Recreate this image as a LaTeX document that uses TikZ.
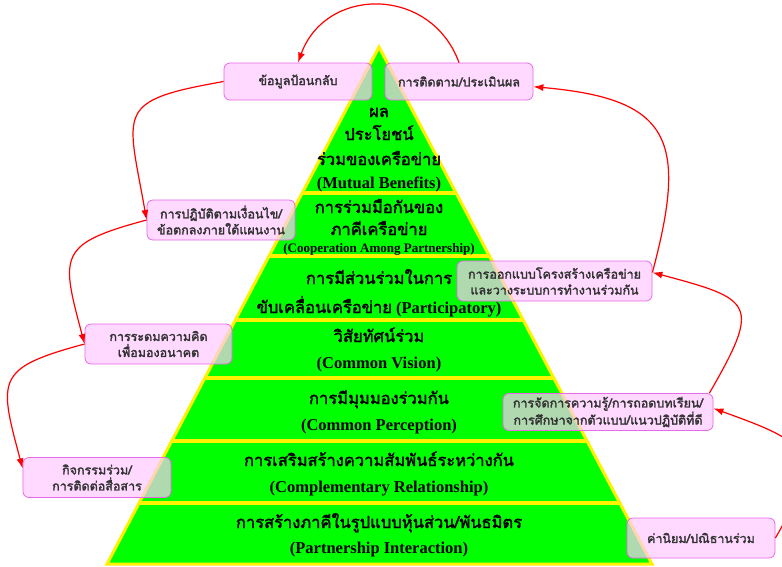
\documentclass[tikz,border=0pt]{standalone}
\usepackage{fontspec}
\setmainfont{Liberation Serif}
\newfontfamily\thaifont[Script=Thai,AutoFakeBold=2.2]{Loma}
\usetikzlibrary{arrows.meta,calc}
\definecolor{boxpink}{RGB}{255,201,255}
\definecolor{boxline}{RGB}{232,104,232}
\begin{document}
\begin{tikzpicture}[x=1pt,y=1pt,
  band/.style={fill=green,draw=yellow,line width=3pt},
  bandline/.style={draw=yellow,line width=3.5pt},
  tl/.style={anchor=base,font={\fontsize{16.5pt}{18pt}\selectfont\thaifont\bfseries}},
  el/.style={anchor=base,font={\fontsize{16.5pt}{18pt}\selectfont\bfseries}},
  es/.style={anchor=base,font={\fontsize{13pt}{15pt}\selectfont\bfseries}},
  kbox/.style={draw=boxline,fill=boxpink,fill opacity=0.69,text opacity=1,rounded corners=6pt,
    align=center,text=black!80,line width=0.8pt,inner sep=1pt,
    font={\fontsize{12.5pt}{16pt}\selectfont\thaifont\bfseries}},
  link/.style={red,line width=1.2pt,-{Latex[length=10pt,width=7pt]}}]

\fill[white] (0,0) rectangle (782,-566);
\useasboundingbox (0,0) rectangle (782,-566);

\coordinate (apex) at (379,-47);
\coordinate (bl) at (107,-564);
\coordinate (br) at (652,-564);
\draw[band] (apex) -- (br) -- (bl) -- cycle;
\foreach \y in {193,256,320,378,441,503}{
  \draw[bandline] ($(apex)!{(\y-47)/517}!(bl)$) -- ($(apex)!{(\y-47)/517}!(br)$);
}

\node[tl] (b1a) at (379,-117) {ผล};
\node[tl] (b1b) at (379,-140) {ประโยชน์};
\node[tl] (b1c) at (379,-165) {ร่วมของเครือข่าย};
\node[el] (b1d) at (379,-188) {(Mutual Benefits)};
\node[tl] (b2a) at (379,-213) {การร่วมมือกันของ};
\node[tl] (b2b) at (379,-235) {ภาคีเครือข่าย};
\node[es] (b2c) at (379,-252) {(Cooperation Among Partnership)};
\node[tl] (b3a) at (379,-284) {การมีส่วนร่วมในการ};
\node[el] (b3b) at (379,-313) {{\thaifont ขับเคลื่อนเครือข่าย} (Participatory)};
\node[tl] (b4a) at (379,-342) {วิสัยทัศน์ร่วม};
\node[el] (b4b) at (379,-368) {(Common Vision)};
\node[tl] (b5a) at (379,-404) {การมีมุมมองร่วมกัน};
\node[el] (b5b) at (379,-430) {(Common Perception)};
\node[tl] (b6a) at (379,-466) {การเสริมสร้างความสัมพันธ์ระหว่างกัน};
\node[el] (b6b) at (379,-492) {(Complementary Relationship)};
\node[tl] (b7a) at (379,-528) {การสร้างภาคีในรูปแบบหุ้นส่วน/พันธมิตร};
\node[el] (b7b) at (379,-553) {(Partnership Interaction)};

\node[kbox,minimum width=148pt,minimum height=37pt] (kp) at (298,-81.5) {ข้อมูลป้อนกลับ};
\node[kbox,minimum width=148pt,minimum height=37pt] (kt) at (459,-81.5) {การติดตาม/ประเมินผล};
\node[kbox,minimum width=148pt,minimum height=40pt] (kf) at (221,-220) {การปฏิบัติตามเงื่อนไข/\\ข้อตกลงภายใต้แผนงาน};
\node[kbox,minimum width=147pt,minimum height=40pt] (kr) at (158.5,-344) {การระดมความคิด\\เพื่อมองอนาคต};
\node[kbox,minimum width=148pt,minimum height=40pt] (kc) at (97,-477.5) {กิจกรรมร่วม/\\การติดต่อสื่อสาร};
\node[kbox,minimum width=195pt,minimum height=40pt] (ko) at (554.5,-281) {การออกแบบโครงสร้างเครือข่าย\\และวางระบบการทำงานร่วมกัน};
\node[kbox,minimum width=210pt,minimum height=37pt] (km) at (608,-412) {การจัดการความรู้/การถอดบทเรียน/\\การศึกษาจากตัวแบบ/แนวปฏิบัติที่ดี};
\node[kbox,minimum width=148pt,minimum height=40pt] (vn) at (701,-538) {ค่านิยม/ปณิธานร่วม};

\draw[link] (vn.east) to[out=60,in=-20,looseness=1.8] (km.2);
\draw[link] ([xshift=-4pt]km.north east) to[out=60,in=-15,looseness=2] (ko.5);
\draw[link] (ko.5) to[out=75,in=-5,looseness=1.6] (kt.-4);
\draw[link] (kt.north) to[out=110,in=70,looseness=1.3] (kp.north);
\draw[link] (kp.west) to[out=190,in=100,looseness=1.8] (kf.west);
\draw[link] (kf.west) to[out=195,in=105,looseness=1.7] (kr.west);
\draw[link] (kr.west) to[out=195,in=105,looseness=1.7] (kc.173);

\end{tikzpicture}
\end{document}
